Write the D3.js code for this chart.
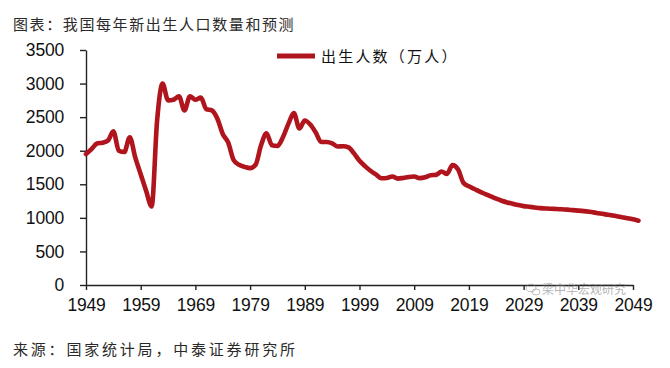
<!DOCTYPE html>
<html>
<head>
<meta charset="utf-8">
<script src="https://cdn.jsdelivr.net/npm/d3@7"></script>
<style>
  body { margin: 0; background: #fff; }
  svg { display: block; }
</style>
</head>
<body>
<div id="chart"></div>
<script>
// birth numbers per year, 1949 - 2050 (万人)
var years = d3.range(1949, 2051);
var births = [
    1950, 2023, 2107, 2120, 2150, 2290, 2000, 1980, 2200, 1900,   // 1949-1958
    1650, 1400, 1170, 2450, 3000, 2750, 2760, 2810, 2600, 2810,   // 1959-1968
    2760, 2790, 2620, 2600, 2480, 2250, 2120, 1860, 1790, 1760,   // 1969-1978
    1740, 1790, 2080, 2260, 2080, 2070, 2200, 2400, 2560, 2330,   // 1979-1988
    2450, 2390, 2270, 2130, 2130, 2110, 2063, 2067, 2050, 1960,   // 1989-1998
    1850, 1771, 1702, 1647, 1590, 1593, 1617, 1585, 1595, 1608,   // 1999-2008
    1615, 1592, 1604, 1635, 1640, 1690, 1655, 1786, 1723, 1523,   // 2009-2018
    1470, 1430, 1390, 1355, 1320, 1285, 1255, 1230, 1210, 1190,   // 2019-2028
    1175, 1165, 1155, 1145, 1140, 1135, 1132, 1128, 1122, 1115,   // 2029-2038
    1108, 1100, 1090, 1078, 1065, 1052, 1040, 1025, 1010, 995,    // 2039-2048
    978, 958                                                      // 2049-2050
];
var xTicks = [1949, 1959, 1969, 1979, 1989, 1999, 2009, 2019, 2029, 2039, 2049];
var yTicks = [0, 500, 1000, 1500, 2000, 2500, 3000, 3500];

var titleText = "图表：我国每年新出生人口数量和预测";
var sourceText = "来源：国家统计局，中泰证券研究所";
var legendText = "出生人数（万人）";
var watermarkText = "梁中华宏观研究";

var width = 670, height = 368;
var lineColor = "#b0141c";
var cjk = "'Noto Sans CJK SC', 'Noto Sans', sans-serif";
var latin = "'Liberation Sans', Arial, sans-serif";

var svg = d3.select("#chart")
    .append("svg")
    .attr("width", width)
    .attr("height", height);

// scales
var x = d3.scaleLinear().domain([1949, 2049]).range([86, 633]);
var y = d3.scaleLinear().domain([0, 3500]).range([285, 50]);

// title
svg.append("text")
    .attr("x", 13)
    .attr("y", 30)
    .attr("font-family", cjk)
    .attr("font-size", 15)
    .attr("letter-spacing", 1.6)
    .attr("fill", "#2a2a2a")
    .text(titleText);

// y axis
var yAxis = svg.append("g")
    .attr("transform", "translate(" + x(1949) + ",0)")
    .call(d3.axisLeft(y).tickValues(yTicks).tickFormat(d3.format("d"))
        .tickSize(6).tickSizeOuter(0).tickPadding(16));

// x axis
var xAxis = svg.append("g")
    .attr("transform", "translate(0," + y(0) + ")")
    .call(d3.axisBottom(x).tickValues(xTicks).tickFormat(d3.format("d"))
        .tickSize(5).tickSizeOuter(0).tickPadding(9));

[xAxis, yAxis].forEach(function (g) {
    g.select(".domain").attr("stroke", "#222").attr("stroke-width", 1.4);
    g.selectAll(".tick line").attr("stroke", "#222").attr("stroke-width", 1.4);
    g.selectAll(".tick text")
        .attr("font-family", latin)
        .attr("font-size", 17.5)
        .attr("letter-spacing", -0.2)
        .attr("fill", "#111");
});

// watermark (faint, sits just under the axis line)
var wm = svg.append("g").attr("opacity", 0.55);
wm.append("ellipse").attr("cx", 531).attr("cy", 288).attr("rx", 5).attr("ry", 3.8)
    .attr("fill", "none").attr("stroke", "#888").attr("stroke-width", 1);
wm.append("ellipse").attr("cx", 536).attr("cy", 292).attr("rx", 4).attr("ry", 3)
    .attr("fill", "none").attr("stroke", "#888").attr("stroke-width", 1);
wm.append("text")
    .attr("x", 542)
    .attr("y", 294)
    .attr("font-family", cjk)
    .attr("font-size", 12)
    .attr("fill", "#777")
    .text(watermarkText);

// births line
svg.append("path")
    .datum(births)
    .attr("fill", "none")
    .attr("stroke", lineColor)
    .attr("stroke-width", 4.6)
    .attr("stroke-linejoin", "round")
    .attr("stroke-linecap", "round")
    .attr("d", d3.line()
        .x(function (d, i) { return x(years[i]); })
        .y(function (d) { return y(d); })
        .curve(d3.curveMonotoneX)
    );

// legend
svg.append("line")
    .attr("x1", 277).attr("x2", 315)
    .attr("y1", 56).attr("y2", 56)
    .attr("stroke", lineColor)
    .attr("stroke-width", 5);
svg.append("text")
    .attr("x", 321)
    .attr("y", 62)
    .attr("font-family", cjk)
    .attr("font-size", 15)
    .attr("letter-spacing", 2.2)
    .attr("fill", "#111")
    .text(legendText);

// source
svg.append("text")
    .attr("x", 13)
    .attr("y", 355)
    .attr("font-family", cjk)
    .attr("font-size", 15)
    .attr("letter-spacing", 2.8)
    .attr("fill", "#2a2a2a")
    .text(sourceText);
</script>
</body>
</html>
